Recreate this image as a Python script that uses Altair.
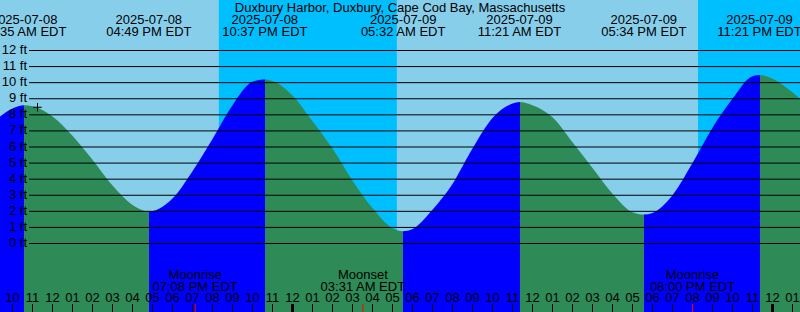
import altair as alt
import pandas as pd

FONT = "Liberation Sans"
RISING = "#0000FF"
FALLING = "#2E8B57"

title_text = "Duxbury Harbor, Duxbury, Cape Cod Bay, Massachusetts"

# time axis: hours since 2025-07-08 00:00 EDT
x_start, x_end = 9.375, 49.375
ft_min, ft_max = -4.259, 15.140

# high / low tide events
event_hours = [10.583, 16.817, 22.617, 29.533, 35.35, 41.567, 47.35]
event_feet = [8.6, 2.0, 10.2, 0.76, 8.8, 1.8, 10.47]
event_dates = ["2025-07-08", "2025-07-08", "2025-07-08", "2025-07-09",
               "2025-07-09", "2025-07-09", "2025-07-09"]
event_times = ["10:35 AM EDT", "04:49 PM EDT", "10:37 PM EDT", "05:32 AM EDT",
               "11:21 AM EDT", "05:34 PM EDT", "11:21 PM EDT"]

# tide height
curve_hours = [9.375, 10, 10.583, 11, 12, 13, 14, 15, 16, 16.817,
               17, 18, 19, 20, 21, 22, 22.617,
               23, 24, 25, 26, 27, 28, 29, 29.533,
               30, 31, 32, 33, 34, 35, 35.35,
               36, 37, 38, 39, 40, 41, 41.567,
               42, 43, 44, 45, 46, 47, 47.35,
               48, 49, 49.375]
curve_feet = [7.9, 8.4, 8.6, 8.53, 7.9, 6.7, 5.2, 3.6, 2.4, 2.0,
              2.02, 2.8, 4.5, 6.5, 8.6, 10.05, 10.2,
              10.1, 9.2, 7.6, 5.9, 3.9, 2.2, 0.95, 0.76,
              0.9, 2.1, 3.7, 5.9, 7.8, 8.7, 8.8,
              8.6, 7.85, 6.3, 4.7, 3.1, 1.95, 1.8,
              1.9, 3.0, 5.0, 7.2, 9.0, 10.4, 10.47,
              10.25, 9.4, 9.0]

# night (sunset -> sunrise)
night_start = [20.317, 44.275]
night_end = [29.217, 49.375]

# moon events
moon_hours = [19.133, 27.517, 44.0]
moon_names = ["Moonrise", "Moonset", "Moonrise"]
moon_times = ["07:08 PM EDT", "03:31 AM EDT", "08:00 PM EDT"]

# hour ticks
tick_hours = list(range(10, 50))
tick_labels = ["10", "11", "12", "01", "02", "03", "04", "05", "06", "07",
               "08", "09", "10", "11", "12", "01", "02", "03", "04", "05",
               "06", "07", "08", "09", "10", "11", "12", "01", "02", "03",
               "04", "05", "06", "07", "08", "09", "10", "11", "12", "01"]
midnight_hours = [24, 48]

grid_feet = list(range(0, 13))
grid_labels = [f"{v} ft" for v in grid_feet]

now_hour = [11.25]
now_feet = [8.47]

# ---- build tables ----
water = pd.DataFrame({"t": curve_hours, "ft": curve_feet})
water["base"] = ft_min

# rising (blue) / falling (green) fill: hard colour stops at each high/low
span = x_end - x_start
stops = [{"offset": 0.0, "color": RISING}]
cur = RISING
for t in event_hours:
    o = (t - x_start) / span
    nxt = FALLING if cur == RISING else RISING
    stops.append({"offset": o, "color": cur})
    stops.append({"offset": o, "color": nxt})
    cur = nxt
stops.append({"offset": 1.0, "color": cur})
water_fill = {"gradient": "linear", "x1": 0, "x2": 1, "y1": 0, "y2": 0,
              "stops": stops}

xs = alt.Scale(domain=[x_start, x_end], nice=False, zero=False)
ys = alt.Scale(domain=[ft_min, ft_max], nice=False, zero=False)


def X(f):
    return alt.X(f, type="quantitative", scale=xs, axis=None)


night = alt.Chart(pd.DataFrame({"a": night_start, "b": night_end})).mark_rect(
    color="#00BFFF").encode(
    x=X("a"), x2=alt.X2("b"), y=alt.value(0), y2=alt.value(312))

area = alt.Chart(water).mark_area(
    interpolate="monotone", opacity=1, color=water_fill).encode(
    x=X("t"),
    y=alt.Y("ft:Q", scale=ys, axis=None, stack=None),
    y2=alt.Y2("base:Q"),
)

grid_df = pd.DataFrame({"ft": grid_feet, "label": grid_labels})
grid = alt.Chart(grid_df).mark_rule(color="black", strokeWidth=1).encode(
    x=alt.value(29), x2=alt.value(800),
    y=alt.Y("ft:Q", scale=ys, axis=None))
grid_text = alt.Chart(grid_df).mark_text(
    align="right", baseline="alphabetic", font=FONT, fontSize=13, dy=3.5,
    color="black").encode(
    x=alt.value(27), y=alt.Y("ft:Q", scale=ys, axis=None), text="label:N")

title = alt.Chart(pd.DataFrame({"s": [title_text]})).mark_text(
    align="center", baseline="alphabetic", font=FONT, fontSize=13,
    color="black").encode(x=alt.value(400), y=alt.value(12), text="s:N")

ev = pd.DataFrame({"t": event_hours, "d": event_dates, "tm": event_times})
ev_date = alt.Chart(ev).mark_text(
    align="center", baseline="alphabetic", font=FONT, fontSize=13,
    color="black").encode(x=X("t"), y=alt.value(24), text="d:N")
ev_time = alt.Chart(ev).mark_text(
    align="center", baseline="alphabetic", font=FONT, fontSize=13,
    color="black").encode(x=X("t"), y=alt.value(36), text="tm:N")

mn = pd.DataFrame({"t": moon_hours, "n": moon_names, "tm": moon_times})
moon_name = alt.Chart(mn).mark_text(
    align="center", baseline="alphabetic", font=FONT, fontSize=13,
    color="black").encode(x=X("t"), y=alt.value(279), text="n:N")
moon_time = alt.Chart(mn).mark_text(
    align="center", baseline="alphabetic", font=FONT, fontSize=13,
    color="black").encode(x=X("t"), y=alt.value(290.5), text="tm:N")
moon_tick = alt.Chart(mn).mark_rule(color="red", strokeWidth=1).encode(
    x=X("t"), y=alt.value(304), y2=alt.value(312))

tk = pd.DataFrame({"t": tick_hours, "lab": tick_labels})
hour_text = alt.Chart(tk).mark_text(
    align="center", baseline="alphabetic", font=FONT, fontSize=13,
    color="black").encode(x=X("t"), y=alt.value(301.5), text="lab:N")
hour_tick = alt.Chart(tk).mark_rule(color="black", strokeWidth=1).encode(
    x=X("t"), y=alt.value(304), y2=alt.value(312))
mid_tick = alt.Chart(pd.DataFrame({"t": midnight_hours})).mark_rule(
    color="black", strokeWidth=3).encode(
    x=X("t"), y=alt.value(304), y2=alt.value(312))

now_mark = alt.Chart(pd.DataFrame({"t": now_hour, "ft": now_feet})).mark_point(
    shape="M-1,0L1,0M0,-1L0,1", filled=False, stroke="black", strokeWidth=1,
    size=72, opacity=1).encode(
    x=X("t"), y=alt.Y("ft:Q", scale=ys, axis=None))

chart = alt.layer(
    night, area, grid, grid_text, title, ev_date, ev_time,
    moon_name, moon_time, hour_text, hour_tick, mid_tick, moon_tick, now_mark
).properties(
    width=800, height=312, padding=0, autosize="none", background="#87CEEB"
).configure_view(strokeWidth=0)

chart.save("out.html", embed_options={"renderer": "svg", "actions": False})
